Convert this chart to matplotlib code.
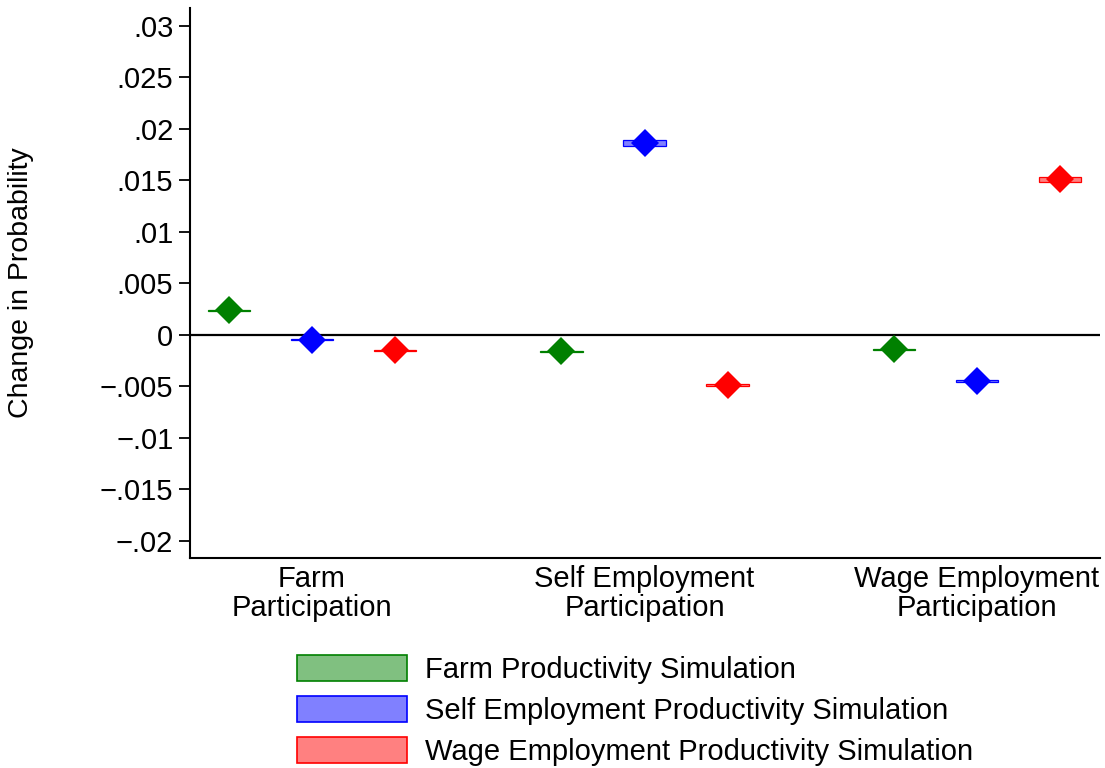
import matplotlib
matplotlib.use("Agg")
import matplotlib.pyplot as plt
from matplotlib.patches import Rectangle, Patch
import numpy as np

plt.rcParams['font.family'] = ['Liberation Sans', 'DejaVu Sans']

categories = ["Farm\nParticipation", "Self Employment\nParticipation", "Wage Employment\nParticipation"]
series = ["Farm Productivity Simulation",
          "Self Employment Productivity Simulation",
          "Wage Employment Productivity Simulation"]
# point estimates per outcome category, one list per simulation
farm_sim = [0.0024, -0.0016, -0.0014]
self_sim = [-0.0005, 0.0186, -0.0045]
wage_sim = [-0.0015, -0.0049, 0.0151]
# half-width of the confidence interval
farm_ci = [0.00005, 0.00005, 0.00005]
self_ci = [0.00005, 0.00025, 0.00010]
wage_ci = [0.00005, 0.00010, 0.00025]

yticks = [-0.02, -0.015, -0.01, -0.005, 0, 0.005, 0.01, 0.015, 0.02, 0.025, 0.03]
ytick_labels = ["\u2212.02", "\u2212.015", "\u2212.01", "\u2212.005", "0", ".005",
                ".01", ".015", ".02", ".025", ".03"]

colors = ["#008000", "#0000ff", "#ff0000"]
fills = ["#80c080", "#8080ff", "#ff8080"]

fig = plt.figure(figsize=(11.05, 7.68), dpi=100)
ax = fig.add_axes([190 / 1105, 1 - 558 / 768, 910 / 1105, 550 / 768])

offsets = [-0.25, 0.0, 0.25]
half_w = 0.064
x = np.arange(len(categories))
for s, (vals, ci) in enumerate([(farm_sim, farm_ci), (self_sim, self_ci), (wage_sim, wage_ci)]):
    xs = x + offsets[s]
    for xi, v, c in zip(xs, vals, ci):
        ax.add_patch(Rectangle((xi - half_w, v - c), 2 * half_w, 2 * c,
                               facecolor=fills[s], edgecolor=colors[s], lw=0.9, zorder=3))
    ax.plot(xs, vals, linestyle="none", marker="D", markersize=14,
            color=colors[s], markeredgewidth=0, zorder=4)

ax.axhline(0, color="black", lw=1.6, zorder=2)

ax.set_xlim(-0.367, 2.37)
ax.set_ylim(-0.02165, 0.0317)
ax.set_yticks(yticks)
ax.set_yticklabels(ytick_labels)
ax.set_xticks(x)
ax.set_xticklabels(categories, linespacing=1.05)
ax.tick_params(axis="x", length=0, labelsize=21, pad=5)
ax.tick_params(axis="y", length=8, width=1.3, labelsize=21, pad=4)
for side in ["top", "right"]:
    ax.spines[side].set_visible(False)
for side in ["left", "bottom"]:
    ax.spines[side].set_linewidth(1.5)
ax.set_ylabel("Change in Probability", fontsize=20.5)
ax.yaxis.set_label_coords((34 - 190) / 910, 0.5)

handles = [Patch(facecolor=fills[i], edgecolor=colors[i], lw=1.2) for i in range(3)]
fig.legend(handles, series, loc="upper left", bbox_to_anchor=(277 / 1105, 1 - 635 / 768),
           frameon=False, fontsize=21, handlelength=3.77, handleheight=0.96,
           handletextpad=0.6, labelspacing=0.42, borderpad=0.2)

fig.savefig("out.png", dpi=100)
